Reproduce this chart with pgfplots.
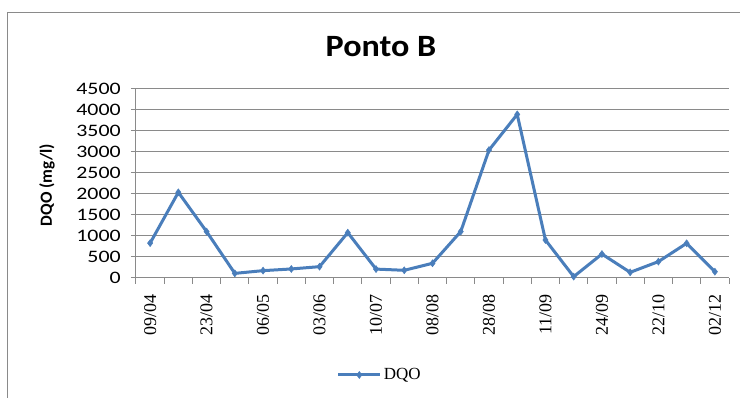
\documentclass[border=0pt]{standalone}
\usepackage{pgfplots}
\pgfplotsset{compat=1.18}
\usepackage{fontspec}
\setmainfont{Liberation Serif}
\newfontfamily\calfont{Carlito}
\definecolor{linecol}{HTML}{4A7EBB}
\definecolor{gridcol}{HTML}{8A8A8A}
\begin{document}
\begin{tikzpicture}[x=1pt,y=1pt]
\useasboundingbox (0,0) rectangle (740,398);
\draw[gridcol, line width=1pt] (7,0) -- (7,385) -- (740,385);
\begin{axis}[
  at={(136pt,120pt)}, anchor=south west,
  scale only axis, width=593pt, height=189pt,
  xmin=-0.5, xmax=20.5, ymin=0, ymax=4500,
  xtick={0,2,...,20},
  xticklabels={09/04,23/04,06/05,03/06,10/07,08/08,28/08,11/09,24/09,22/10,02/12},
  minor xtick={-0.5,0.5,...,20.5},
  ytick={0,500,...,4500},
  tick align=outside,
  major x tick style={draw=none},
  minor x tick style={gridcol, line width=1pt},
  minor tick length=6pt,
  major tick length=5pt,
  y tick style={gridcol, line width=1pt},
  ymajorgrids,
  major grid style={gridcol, line width=1pt},
  axis x line*=bottom, axis y line*=left,
  axis line style={gridcol, line width=1pt, -},
  /pgf/number format/1000 sep={},
  /pgf/number format/assume math mode=true,
  yticklabel style={font=\calfont\fontsize{17.5}{17.5}\selectfont, xscale=1.25, anchor=east, inner sep=2pt, xshift=-6pt},
  xticklabel style={font=\fontsize{18}{18}\selectfont, rotate=90, anchor=east, inner sep=2pt, xshift=-9pt},
  ylabel={DQO (mg/l)},
  ylabel style={font=\calfont\bfseries\fontsize{17}{17}\selectfont, at={(axis description cs:-0.150,0.492)}, anchor=center, rotate=0},
  legend style={draw=none, fill=none, at={(axis description cs:0.411,-0.513)}, anchor=center,
    font=\fontsize{17}{17}\selectfont, inner sep=0pt},
  legend image code/.code={
    \draw[#1, mark repeat=2, mark phase=2] plot coordinates {(0pt,0pt) (21pt,0pt) (42pt,0pt)};
  },
  clip=false,
]
\addplot[linecol, line width=3pt, mark=diamond*, mark size=3.5pt, mark options={solid, line width=0.5pt, fill=linecol}]
coordinates {
(0,830) (1,2040) (2,1105) (3,110) (4,175) (5,215) (6,270) (7,1080) (8,212) (9,183)
(10,350) (11,1105) (12,3045) (13,3895) (14,905) (15,32) (16,570) (17,135) (18,390) (19,826) (20,150)
};
\addlegendentry{DQO}
\end{axis}
\node[font=\calfont\bfseries\fontsize{31}{31}\selectfont, xscale=1.1] at (381,351) {Ponto B};
\end{tikzpicture}
\end{document}
